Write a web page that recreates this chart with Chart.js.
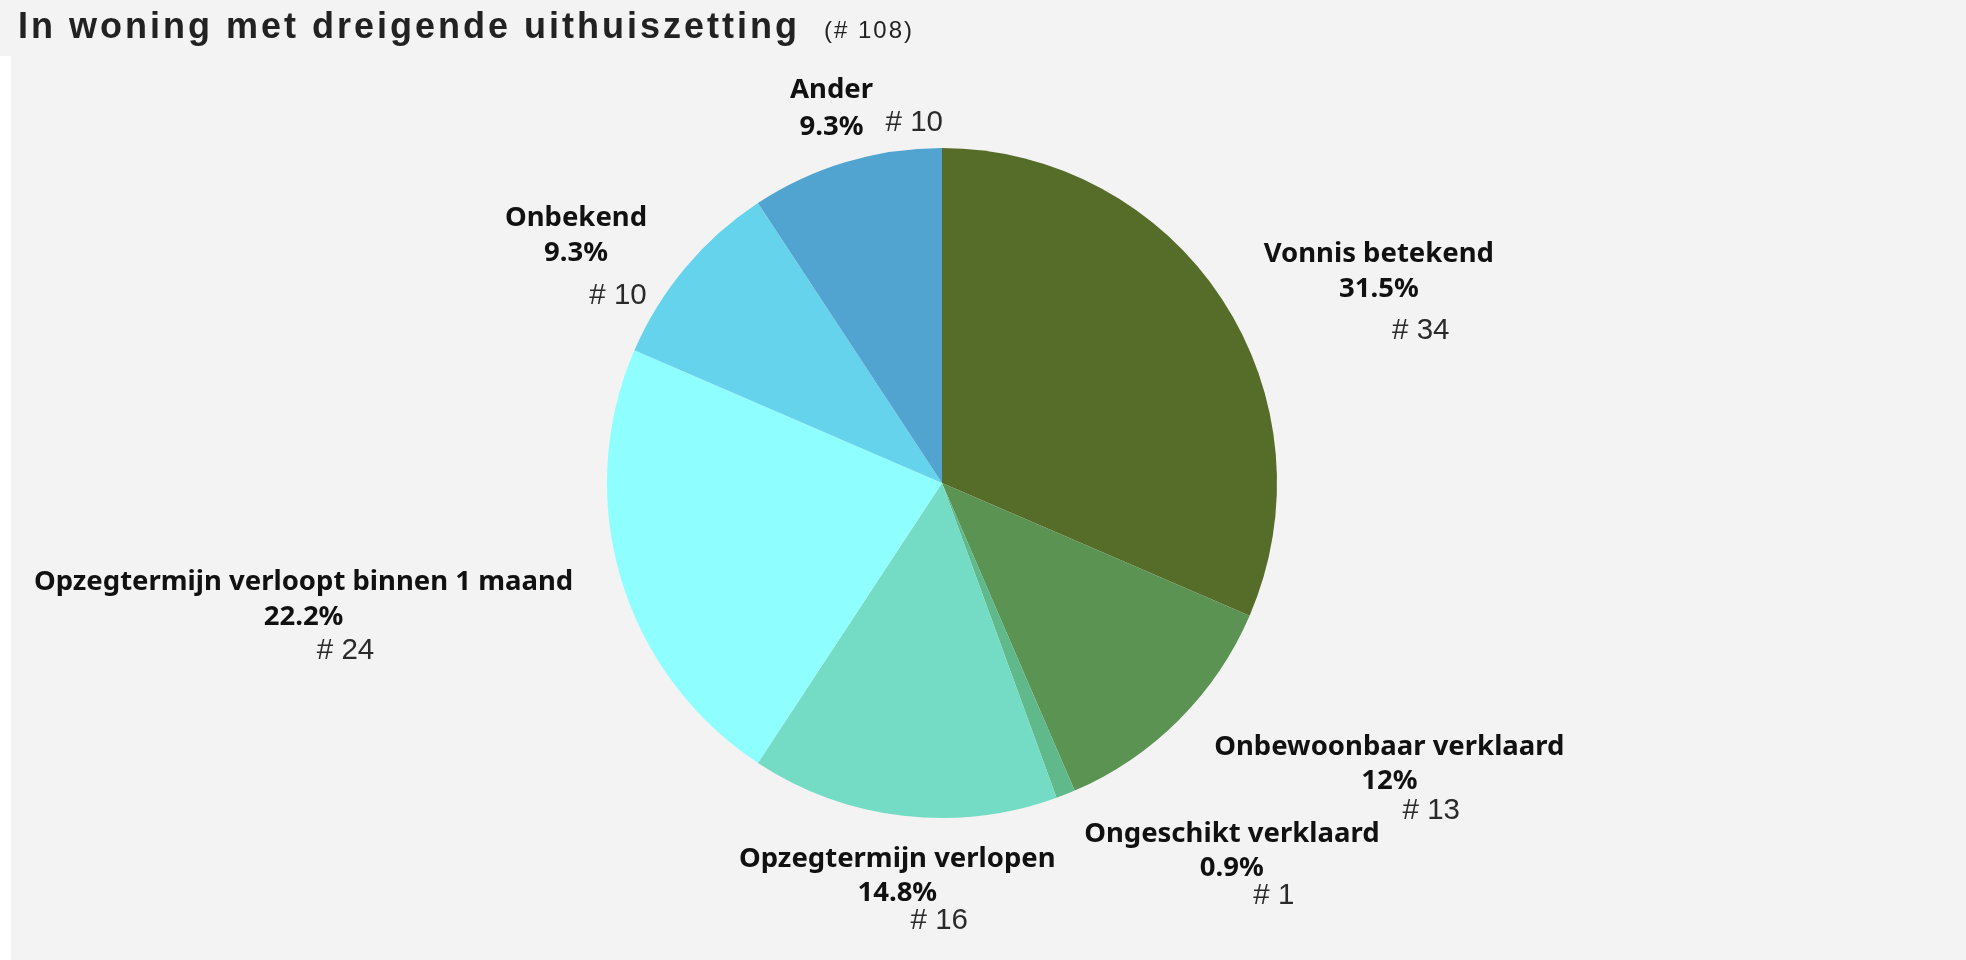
<!DOCTYPE html>
<html>
<head>
<meta charset="utf-8">
<script src="https://cdn.jsdelivr.net/npm/chart.js@4.4.1/dist/chart.umd.min.js"></script>
<style>
html,body{margin:0;padding:0;background:#f3f3f3;}
body{width:1966px;height:960px;position:relative;overflow:hidden;}
#strip{position:absolute;left:0;top:56px;width:11px;height:904px;background:#fff;}
#title{position:absolute;left:18px;top:8px;font-family:"Liberation Sans",Arial,sans-serif;font-weight:bold;font-size:36px;line-height:36px;letter-spacing:3px;color:#222;white-space:nowrap;}
#title small{font-weight:normal;font-size:24px;letter-spacing:2px;margin-left:24px;}
#wrap{position:absolute;left:0;top:0;width:1966px;height:960px;}
</style>
</head>
<body>
<div id="strip"></div>
<div id="wrap"><canvas id="pieChart"></canvas></div>
<div id="title">In woning met dreigende uithuiszetting<small>(# 108)</small></div>
<script>

/* DATA */

const categories = ["Vonnis betekend","Onbewoonbaar verklaard","Ongeschikt verklaard","Opzegtermijn verlopen","Opzegtermijn verloopt binnen 1 maand","Onbekend","Ander"];
const counts = [34,13,1,16,24,10,10];

const sliceColors = ["#566d29","#5b9353","#60b98b","#74dcc5","#8ffefe","#66d3ec","#52a4d0"];


/* LABELS NEXT TO THE SLICES */

const total = counts.reduce((a,b)=>a+b,0);

function pctText(n){
let v = Math.round(n/total*1000)/10;
return (v%1===0 ? v.toFixed(0) : v.toFixed(1)) + "%";
}

const sliceLabels = {
id:"sliceLabels",
afterDatasetsDraw(chart){
const ctx = chart.ctx;
const meta = chart.getDatasetMeta(0);
const boldFont = "bold 27.5px 'Noto Sans', sans-serif";
const plainFont = "29.5px 'Liberation Sans', Arial, sans-serif";

ctx.save();
ctx.textBaseline = "middle";
ctx.textAlign = "center";

meta.data.forEach((arc,i)=>{
const p = arc.getProps(["x","y","startAngle","endAngle","outerRadius"],true);
const mid = (p.startAngle+p.endAngle)/2;
const dx = Math.cos(mid), dy = Math.sin(mid);
const ax = p.x + dx*(p.outerRadius+50);
const ay = p.y + dy*(p.outerRadius+50);

const name = categories[i];
const pct = pctText(counts[i]);
const cnt = "# " + counts[i];

ctx.font = boldFont;
const w = Math.max(ctx.measureText(name).width, ctx.measureText(pct).width);
let cx = ax;
if(dx > 0.3) cx = ax + w/2;
else if(dx < -0.3) cx = ax - w/2;

// labels straight above the pie keep the count beside the percentage
const top = dy < -0.9;

ctx.fillStyle = "#111";
ctx.fillText(name, cx, ay + (top ? -24 : -13 + 7*dy));
ctx.fillText(pct, cx, ay + (top ? 13 : 21.5 + 6.5*dy));

const pw = ctx.measureText(pct).width;
ctx.font = plainFont;
ctx.fillStyle = "#2a2a2a";
if(top){
ctx.textAlign = "left";
ctx.fillText(cnt, cx + pw/2 + 22, ay + 9);
ctx.textAlign = "center";
}else{
ctx.fillText(cnt, cx + 42, ay + 58 - 3*dy);
}
});

ctx.restore();
}
};


/* PIE */

new Chart(
document.getElementById("pieChart"),
{
type:"pie",
data:{
labels:categories,
datasets:[{
data:counts,
backgroundColor:sliceColors,
borderWidth:0
}]
},
options:{
responsive:true,
maintainAspectRatio:false,
animation:false,
layout:{padding:{left:607,right:689,top:148,bottom:142}},
plugins:{
legend:{display:false},
tooltip:{enabled:false}
}
},
plugins:[sliceLabels]
}
);

</script>
</body>
</html>
